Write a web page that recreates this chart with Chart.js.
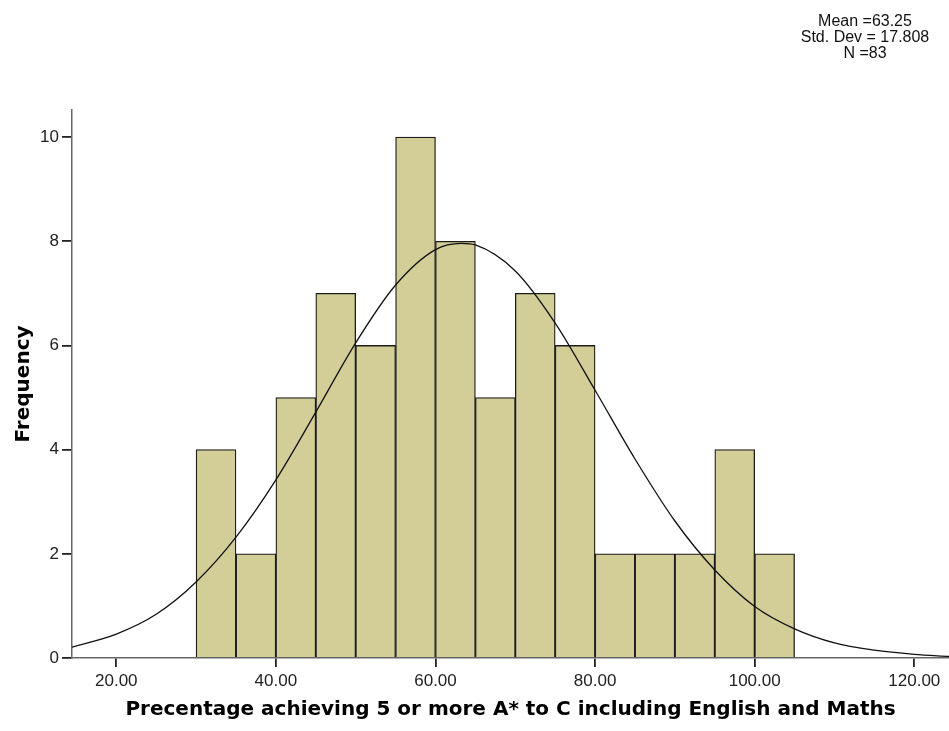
<!DOCTYPE html>
<html>
<head>
<meta charset="utf-8">
<script src="https://cdn.jsdelivr.net/npm/chart.js@4/dist/chart.umd.min.js"></script>
<style>
  body { margin: 0; background: #fff; }
  #wrap { position: relative; width: 949px; height: 731px; }
  #stats {
    position: absolute; left: 775px; top: 13px; width: 180px;
    font-family: "Liberation Sans", Arial, sans-serif; font-size: 16px;
    line-height: 16px; text-align: center; color: #111;
  }
</style>
</head>
<body>
<div id="wrap">
  <canvas id="chart" width="949" height="731"></canvas>
  <div id="stats">Mean =63.25<br>Std. Dev = 17.808<br>N =83</div>
</div>
<script>
// histogram bins (centre of each 5-wide bin) and counts
const binCenters = [32.5, 37.5, 42.5, 47.5, 52.5, 57.5, 62.5, 67.5, 72.5, 77.5, 82.5, 87.5, 92.5, 97.5, 102.5];
const frequencies = [4, 2, 5, 7, 6, 10, 8, 5, 7, 6, 2, 2, 2, 4, 2];

// normal curve
const curveX = [14.45, 20, 25, 30, 35, 40, 45, 50, 55, 60, 63.25, 65, 70, 75, 80, 85, 90, 95, 100, 105, 110, 115, 120, 124.35];
const curveY = [0.21, 0.46, 0.84, 1.46, 2.32, 3.42, 4.72, 6.05, 7.16, 7.84, 7.96, 7.93, 7.43, 6.43, 5.14, 3.82, 2.63, 1.69, 0.99, 0.56, 0.29, 0.15, 0.07, 0.03];

const xTicks = [20, 40, 60, 80, 100, 120];
const yTicks = [0, 2, 4, 6, 8, 10];

const font = '"Liberation Sans", Arial, sans-serif';
const titleFont = '"DejaVu Sans", Verdana, sans-serif';

let barData = [];
for (let i = 0; i < binCenters.length; i++) {
    barData.push({ x: binCenters[i], y: frequencies[i] });
}
let lineData = [];
for (let i = 0; i < curveX.length; i++) {
    lineData.push({ x: curveX[i], y: curveY[i] });
}

const ctx = document.getElementById('chart').getContext('2d');
new Chart(ctx, {
    type: 'bar',
    data: {
        datasets: [{
            type: 'line',
            data: lineData,
            borderColor: '#111',
            borderWidth: 1.3,
            pointRadius: 0,
            cubicInterpolationMode: 'monotone',
            fill: false
        }, {
            data: barData,
            backgroundColor: '#d3ce98',
            borderColor: '#1c1c1c',
            borderWidth: 1.3,
            barPercentage: 1,
            categoryPercentage: 1
        }]
    },
    options: {
        responsive: false,
        animation: false,
        layout: { padding: { top: 110, right: 0, left: 0, bottom: 0 } },
        plugins: { legend: { display: false }, tooltip: { enabled: false } },
        scales: {
            x: {
                type: 'linear',
                min: 14.45,
                max: 124.35,
                offset: false,
                afterBuildTicks: function (scale) {
                    scale.ticks = xTicks.map(v => ({ value: v }));
                },
                afterFit: function (scale) { scale.height = 73; },
                grid: { offset: false, drawOnChartArea: false, drawTicks: true, tickLength: 9, color: '#222', lineWidth: 1.8 },
                border: { color: '#666', width: 1.5 },
                ticks: {
                    color: '#222',
                    font: { family: font, size: 17 },
                    padding: 4,
                    maxRotation: 0,
                    callback: v => v.toFixed(2)
                },
                title: {
                    display: true,
                    text: 'Precentage achieving 5 or more A* to C including English and Maths',
                    color: '#000',
                    font: { family: titleFont, size: 20, weight: 'bold' },
                    padding: { top: 0, bottom: 9 }
                }
            },
            y: {
                min: 0,
                max: 10.52,
                afterBuildTicks: function (scale) {
                    scale.ticks = yTicks.map(v => ({ value: v }));
                },
                afterFit: function (scale) { scale.width = 72; },
                grid: { drawOnChartArea: false, drawTicks: true, tickLength: 10, color: '#222', lineWidth: 1.8 },
                border: { color: '#666', width: 1.5 },
                ticks: {
                    color: '#222',
                    font: { family: font, size: 17 },
                    padding: 3
                },
                title: {
                    display: true,
                    text: 'Frequency',
                    color: '#000',
                    font: { family: titleFont, size: 20, weight: 'bold' },
                    padding: { top: 12, bottom: 0 }
                }
            }
        }
    }
});
</script>
</body>
</html>
